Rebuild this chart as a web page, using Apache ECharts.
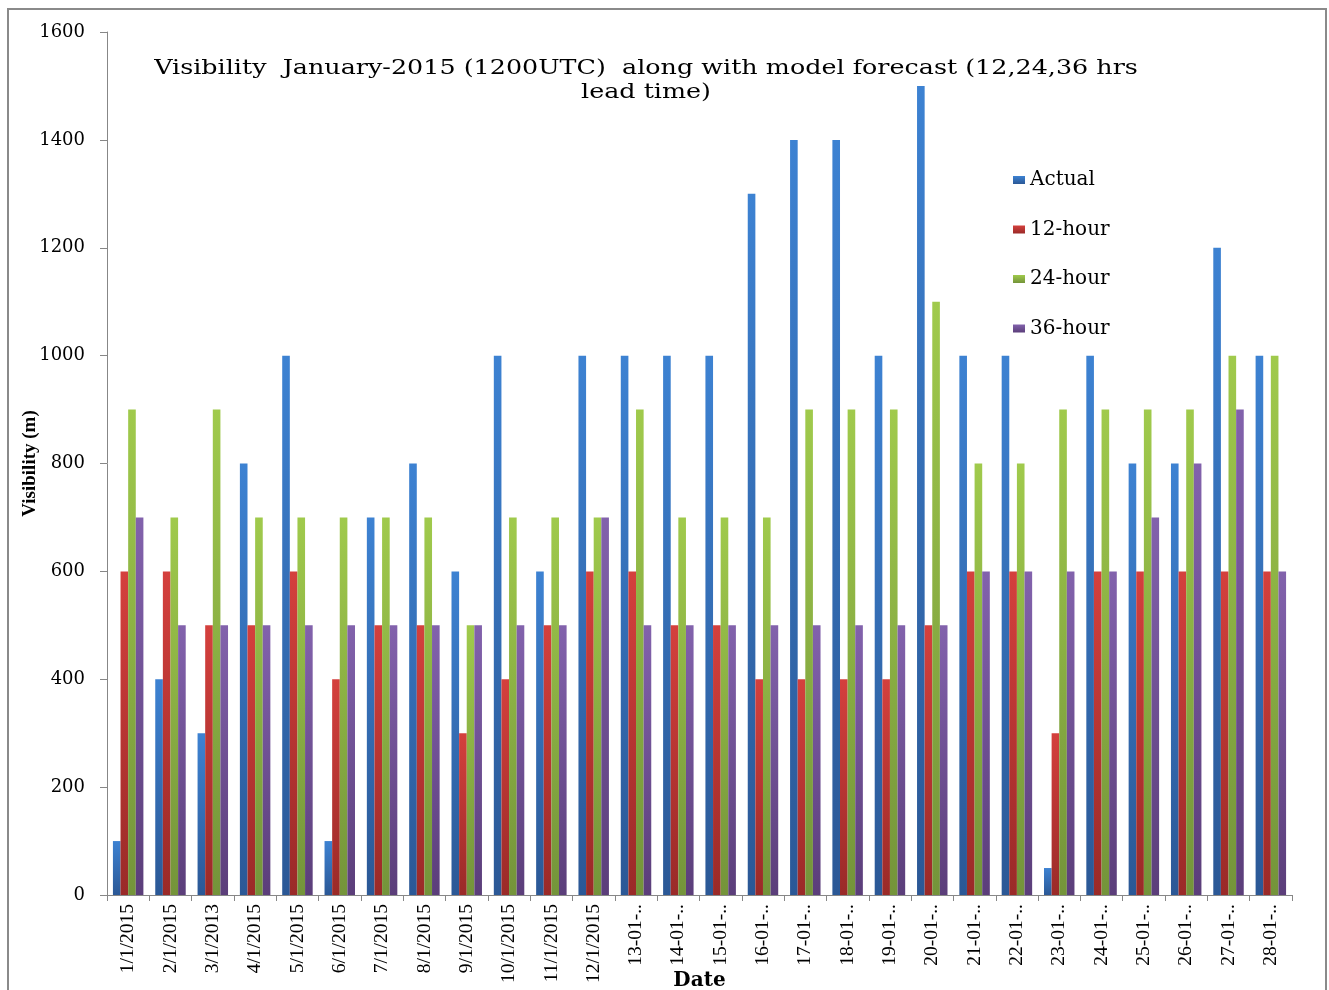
<!DOCTYPE html>
<html>
<head>
<meta charset="utf-8">
<script src="https://cdn.jsdelivr.net/npm/echarts@6/dist/echarts.min.js"></script>
<style>
html,body{margin:0;padding:0;background:#fff;}
#chart{width:1329px;height:990px;}
</style>
</head>
<body>
<div id="chart"></div>
<script>
const categories = ['1/1/2015','2/1/2015','3/1/2013','4/1/2015','5/1/2015','6/1/2015','7/1/2015','8/1/2015','9/1/2015','10/1/2015','11/1/2015','12/1/2015',
  '13-01-..','14-01-..','15-01-..','16-01-..','17-01-..','18-01-..','19-01-..','20-01-..','21-01-..','22-01-..','23-01-..','24-01-..','25-01-..','26-01-..','27-01-..','28-01-..'];
const actual  = [100,400,300,800,1000,100,700,800,600,1000,600,1000,1000,1000,1000,1300,1400,1400,1000,1500,1000,1000,50,1000,800,800,1200,1000];
const hour12  = [600,600,500,500,600,400,500,500,300,400,500,600,600,500,500,400,400,400,400,500,600,600,300,600,600,600,600,600];
const hour24  = [900,700,900,700,700,700,700,700,500,700,700,700,900,700,700,700,900,900,900,1100,800,800,900,900,900,900,1000,1000];
const hour36  = [700,500,500,500,500,500,500,500,500,500,500,700,500,500,500,500,500,500,500,500,600,600,600,600,700,800,900,600];
const seriesNames = ['Actual','12-hour','24-hour','36-hour'];
const yTicks = {min:0, max:1600, interval:200};
const titleText = 'Visibility  January-2015 (1200UTC)  along with model forecast (12,24,36 hrs\nlead time)';

const chart = echarts.init(document.getElementById('chart'));
function grad(top, bottom){
  return new echarts.graphic.LinearGradient(0,0,0,1,[{offset:0,color:top},{offset:1,color:bottom}]);
}
const colors = [
  ['#3d82d2','#2b5896'],
  ['#d4403d','#9a2a28'],
  ['#a0ca4c','#74943a'],
  ['#8262ac','#5b3e7a']
];
const dataSets = [actual, hour12, hour24, hour36];
const serif = 'DejaVu Serif';
const timesLike = 'Liberation Serif';

chart.setOption({
  backgroundColor:'#fff',
  animation:false,
  legend:{
    orient:'vertical', left:1008, top:165,
    itemWidth:12, itemHeight:8, itemGap:29.5, icon:'rect',
    textStyle:{fontFamily:serif, fontSize:20, color:'#000'},
    data:seriesNames
  },
  grid:{left:107, right:37, top:32, bottom:95, containLabel:false, outerBoundsMode:'none'},
  xAxis:{
    type:'category', data:categories,
    name:'Date', nameLocation:'middle', nameGap:76, nameMoveOverlap:false,
    nameTextStyle:{fontFamily:serif, fontWeight:'bold', fontSize:20, color:'#000', verticalAlign:'top'},
    axisLine:{lineStyle:{color:'#878787', width:1}},
    axisTick:{show:true, length:6, lineStyle:{color:'#878787'}},
    axisLabel:{rotate:90, margin:9, fontFamily:timesLike, fontSize:19.5, color:'#000', interval:0}
  },
  yAxis:{
    type:'value', min:yTicks.min, max:yTicks.max, interval:yTicks.interval,
    name:'Visibility (m)', nameLocation:'middle', nameGap:67, nameRotate:90, nameMoveOverlap:false,
    nameTextStyle:{fontFamily:timesLike, fontWeight:'bold', fontSize:19, color:'#000'},
    splitLine:{show:false},
    axisLine:{show:true, lineStyle:{color:'#878787', width:1}},
    axisTick:{show:true, length:7, lineStyle:{color:'#878787'}},
    axisLabel:{margin:22, fontFamily:serif, fontSize:18, color:'#000', formatter:v=>String(v)}
  },
  graphic:[{
    type:'rect', shape:{x:8, y:9, width:1318, height:990},
    style:{fill:'none', stroke:'#8a8a8a', lineWidth:2}, silent:true, z:-1
  },{
    type:'text', x:646, y:57, scaleX:1.27, scaleY:1, silent:true, z:10,
    style:{text:titleText, fontFamily:serif, fontSize:20, lineHeight:24, fill:'#000', align:'center', verticalAlign:'top'}
  }],
  series: seriesNames.map((n,i)=>({
    name:n, type:'bar', data:dataSets[i],
    barGap:'0%', barCategoryGap:'28%',
    itemStyle:{color:grad(colors[i][0], colors[i][1])}
  }))
});
</script>
</body>
</html>
